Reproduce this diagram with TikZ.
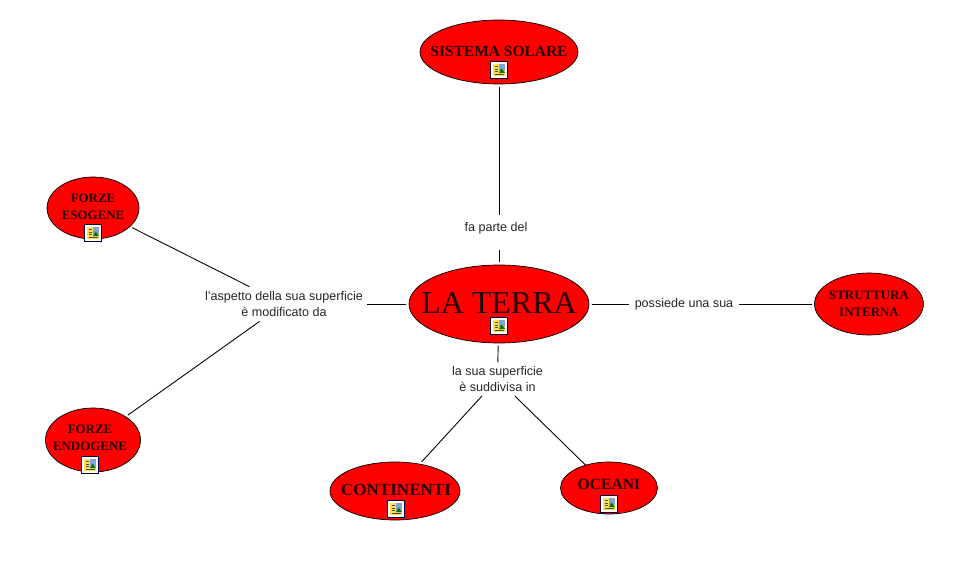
\documentclass[tikz,border=0pt]{standalone}
\usepackage{fontspec}
\setmainfont{Liberation Serif}
\setsansfont{Liberation Sans}
\usepackage{tikz}
\usetikzlibrary{
  calc,            % coordinate calculation
  positioning,
  shapes.geometric % ellipse of the concepts
}
\tikzset{
  concept/.style={
    ellipse,
    draw=black,
    line width=0.4pt,
    fill=red,
    inner sep=0pt,
    outer sep=1.5pt,
    align=center
  },
  concept text/.style={
    font=\fontsize{7.35}{9.6}\selectfont\bfseries,
    color=black!85!red
  },
  link label/.style={
    font=\sffamily\fontsize{7.15}{8.6}\selectfont,
    align=center,
    color=black!85,
    inner sep=0pt
  },
  link/.style={
    -,
    line width=0.5pt,
    color=black
  }
}
% small picture icon under the concept text
\newcommand{\picicon}[1]{%
  \begin{scope}[shift={#1}]
    \fill[white] (-0.17,-0.17) rectangle (0.17,0.17);
    \draw[black!75!blue, line width=0.45pt] (-0.165,-0.165) rectangle (0.165,0.165);
    \fill[yellow!70!orange!70] (-0.12,-0.12) rectangle (0.12,0.12);
    \fill[cyan!45!blue!50] (0,-0.02) rectangle (0.12,0.12);
    \fill[green!45!black] (0,-0.06) -- (0.05,0.03) -- (0.12,-0.06) -- cycle;
    \draw[black!70, line width=0.3pt] (-0.09,0.07) -- (-0.02,0.07) (-0.09,0.02) -- (-0.02,0.02)
      (-0.09,-0.03) -- (-0.02,-0.03) (-0.09,-0.08) -- (0.09,-0.08);
  \end{scope}
}

\begin{document}
\begin{tikzpicture}
  \useasboundingbox (0,0) rectangle (19.28,11.22);

  % ======================= concepts =======================
  \node[concept, minimum width=3.6cm, minimum height=1.56cm] (terra) at (9.98,5.14) {};
  \node[concept, minimum width=3.16cm, minimum height=1.28cm] (sistema) at (9.98,10.18) {};
  \node[concept, minimum width=1.84cm, minimum height=1.24cm] (esogene) at (1.86,7.06) {};
  \node[concept, minimum width=1.9cm, minimum height=1.28cm] (endogene) at (1.86,2.42) {};
  \node[concept, minimum width=2.18cm, minimum height=1.24cm] (struttura) at (17.38,5.14) {};
  \node[concept, minimum width=2.6cm, minimum height=1.16cm] (continenti) at (7.9,1.4) {};
  \node[concept, minimum width=1.94cm, minimum height=1.04cm, outer sep=0pt] (oceani) at (12.18,1.46) {};

  % texts of the concepts
  \node[concept text, font=\fontsize{18.2}{21}\selectfont] (terratext) at (9.98,5.17) {LA TERRA};
  \node[concept text, font=\fontsize{8.8}{10}\selectfont\bfseries] (sistematext) at (9.98,10.2) {SISTEMA SOLARE};
  \node[concept text, align=center] (esogenetext) at (1.86,7.08) {FORZE\\ESOGENE};
  \node[concept text, align=center] (endogenetext) at (1.8,2.46) {FORZE\\ENDOGENE};
  \node[concept text, align=center] (strutturatext) at (17.38,5.14) {STRUTTURA\\INTERNA};
  \node[concept text, font=\fontsize{9.7}{11}\selectfont\bfseries] (continentitext) at (7.92,1.42) {CONTINENTI};
  \node[concept text, font=\fontsize{8.9}{10}\selectfont\bfseries] (oceanitext) at (12.18,1.54) {OCEANI};

  % icons
  \picicon{(9.98,4.7)}
  \picicon{(9.98,9.82)}
  \picicon{(1.86,6.56)}
  \picicon{(1.8,1.92)}
  \picicon{(7.92,1.04)}
  \picicon{(12.18,1.14)}

  % ======================= link labels =======================
  \node[link label, anchor=base, text height=0.32cm, text depth=0.38cm] (fa) at (9.92,6.6) {fa parte del};
  \node[link label, minimum width=2.2cm, minimum height=0.4cm] (possiede) at (13.68,5.14) {possiede una sua};
  \node[link label, minimum width=3.3cm, minimum height=0.68cm] (aspetto) at (5.68,5.14)
    {l'aspetto della sua superficie\\è modificato da};
  \node[link label, minimum width=1.9cm, minimum height=0.66cm] (sua) at (9.95,3.64)
    {la sua superficie\\è suddivisa in};

  % ======================= connectors =======================
  \draw[link] (sistema) -- (sistema |- fa.north);
  \draw[link] (terra |- fa.south) -- (terra);
  \draw[link] (terra) -- (possiede);
  \draw[link] (possiede) -- (struttura);
  \draw[link] (terra) -- (aspetto);
  \draw[link] (aspetto) -- (esogene);
  \draw[link] (aspetto) -- (endogene);
  \draw[link] (terra) -- (sua);
  \draw[link] (sua) -- (continenti);
  \draw[link] (sua) -- (oceani);

\end{tikzpicture}
\end{document}
